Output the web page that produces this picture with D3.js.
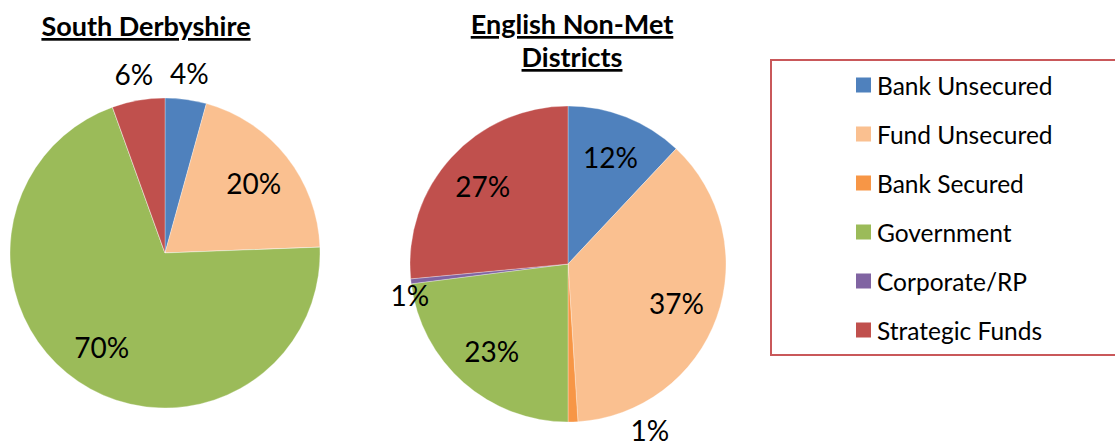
<!DOCTYPE html>
<html><head><meta charset="utf-8">
<script src="https://cdn.jsdelivr.net/npm/d3@7"></script>
<style>
body{margin:0;background:#fff;}
svg text{font-family:Lato,"Open Sans",sans-serif;fill:#000;}
</style></head>
<body><svg id="c" width="1115" height="441"></svg>
<script>
const categories = ["Bank Unsecured","Fund Unsecured","Bank Secured","Government","Corporate/RP","Strategic Funds"];
const colors = ["#4F81BD","#FAC090","#F79646","#9BBB59","#8064A2","#C0504D"];
const southDerbyshire = [4.3, 20.1, 0, 70.1, 0, 5.5];
const englishNonMet = [12, 37, 1, 23, 0.5, 26.5];
const titles = [["South Derbyshire"],["English Non-Met","Districts"]];

const svg = d3.select("#c");
const color = d3.scaleOrdinal().domain(categories).range(colors);

const pies = [
  {values: southDerbyshire, cx:165, cy:253, r:155, titleX:146, titleY:36,
   nudge:{}},
  {values: englishNonMet, cx:568, cy:264, r:158, titleX:572, titleY:34,
   nudge:{"Bank Secured":{da:-24.5, rf:1.17}, "Corporate/RP":{da:-4.7, rf:1.02}}}
];

const pieGen = d3.pie().sort(null).value(d=>d.v);

pies.forEach((p,pi)=>{
  const data = categories.map((c,i)=>({c, v:p.values[i]}));
  const total = d3.sum(data,d=>d.v);
  const arcs = pieGen(data);
  const arc = d3.arc().innerRadius(0).outerRadius(p.r);
  const g = svg.append("g").attr("transform",`translate(${p.cx},${p.cy})`);
  g.selectAll("path").data(arcs).join("path")
    .attr("d",arc).attr("fill",d=>color(d.data.c))
    .attr("stroke","#fff").attr("stroke-opacity",0.5).attr("stroke-width",0.6);
  g.selectAll("text").data(arcs.filter(d=>d.data.v>0)).join("text")
    .attr("text-anchor","middle").attr("dominant-baseline","central")
    .style("font-size","28px")
    .attr("transform",d=>{
      const pct = d.data.v/total*100;
      const mid = (d.startAngle+d.endAngle)/2;
      let rf, a = mid;
      if(pct>=8){ rf=0.73; }
      else { const n = p.nudge[d.data.c]||{}; rf = n.rf||1.17; a = mid + (n.da||0)*Math.PI/180; }
      return `translate(${Math.sin(a)*p.r*rf},${-Math.cos(a)*p.r*rf})`;
    })
    .text(d=>Math.round(d.data.v/total*100)+"%");
  const t = svg.append("text").attr("x",p.titleX).attr("y",p.titleY)
    .attr("text-anchor","middle").style("font-size","27px").style("font-weight","bold")
    .style("text-decoration","underline");
  titles[pi].forEach((line,li)=>t.append("tspan").attr("x",p.titleX).attr("dy",li?33:0).text(line));
});

// legend
svg.append("rect").attr("x",771).attr("y",60).attr("width",360).attr("height",295)
  .attr("fill","none").attr("stroke","#C9585A").attr("stroke-width",2);
const ly = d3.scalePoint().domain(categories).range([85,330]);
const lg = svg.append("g").selectAll("g").data(categories).join("g")
  .attr("transform",d=>`translate(856,${ly(d)})`);
lg.append("rect").attr("x",0).attr("y",-7.5).attr("width",15).attr("height",15).attr("fill",d=>color(d));
lg.append("text").attr("x",21).attr("dominant-baseline","central").style("font-size","24.5px").text(d=>d);
</script></body></html>
